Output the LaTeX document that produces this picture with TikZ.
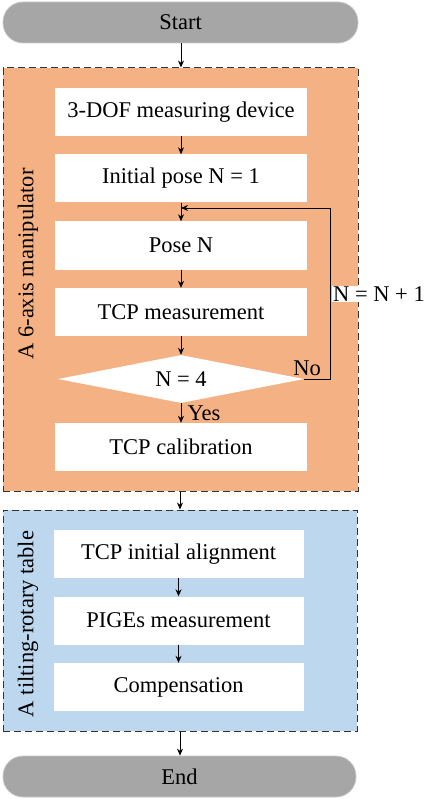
\documentclass[tikz,border=0pt]{standalone}
\usepackage{fontspec}
\setmainfont{Liberation Serif}
\newfontfamily\tnr{Liberation Serif}
\usetikzlibrary{arrows.meta,shapes.geometric}
\definecolor{grpor}{HTML}{F4B183}
\definecolor{grpbl}{HTML}{BDD7EE}
\definecolor{pillg}{HTML}{A6A6A6}
\definecolor{pilld}{HTML}{C8C8C8}
\definecolor{dashc}{HTML}{333333}
\begin{document}
\begin{tikzpicture}[x=1pt,y=-1pt,
  font=\tnr\fontsize{22.5}{27}\selectfont,
  pill/.style={draw=pilld, line width=0.8pt, fill=pillg, rounded corners=20pt, inner sep=0pt, minimum height=41pt},
  grp/.style={draw=dashc, line width=1pt, dash pattern=on 7pt off 4pt, inner sep=0pt},
  proc/.style={fill=white, inner sep=0pt, minimum width=252pt, minimum height=48pt},
  dec/.style={shape=diamond, fill=white, aspect=5.2, inner sep=0pt, minimum width=246pt, minimum height=48pt},
  arr/.style={-{Stealth[length=7pt,width=6pt]}, line width=0.9pt, black},
  lbl/.style={inner sep=0pt}
]
\useasboundingbox (0,0) rectangle (429,799);
% terminals
\node[pill, minimum width=355pt] (start) at (180.5,22.5) {Start};
\node[pill, minimum width=353pt] (end) at (179.5,776.5) {End};
% groups
\node[grp, fill=grpor, minimum width=355pt, minimum height=423pt] (ga) at (180.5,279.5) {};
\node[grp, fill=grpbl, minimum width=354pt, minimum height=221pt] (gb) at (180,620.5) {};
\node[lbl, rotate=90] (la) at (28,264) {A 6-axis manipulator};
\node[lbl, rotate=90] (lb) at (28,624) {A tilting-rotary table};
% steps
\node[proc] (dof) at (181,112) {3-DOF measuring device};
\node[proc] (init) at (181,178.5) {Initial pose N = 1};
\node[proc] (pose) at (181,245.5) {Pose N};
\node[proc] (meas) at (181,312) {TCP measurement};
\node[dec] (chk) at (181,379) {N = 4};
\node[proc] (cal) at (181,447) {TCP calibration};
\node[proc, minimum width=250pt] (align) at (178.5,554) {TCP initial alignment};
\node[proc, minimum width=250pt] (piges) at (178.5,620.5) {PIGEs measurement};
\node[proc, minimum width=250pt] (comp) at (178.5,687) {Compensation};
% connectors
\draw[arr] (start.south -| 181,0) -- (ga.north -| 181,0);
\draw[arr] (dof) -- (init);
\draw[arr] (init) -- (pose);
\draw[arr] (pose) -- (meas);
\draw[arr] (meas) -- (chk);
\draw[arr] (chk) -- (cal);
\draw[arr] (ga.south -| 180,0) -- (gb.north -| 180,0);
\draw[arr] (align) -- (piges);
\draw[arr] (piges) -- (comp);
\draw[arr] (gb.south -| 180,0) -- (end.north -| 180,0);
\coordinate (lc) at (330,208);
\coordinate (lin) at (181,208);
\draw[arr] (chk.east) -| (lc) -- (lin);
% labels
\node[fill=white, inner xsep=1.5pt, inner ysep=1pt] (inc) at (379,294) {N = N + 1};
\node[lbl] (no) at (307,368) {No};
\node[lbl] (yes) at (204,413) {Yes};
\end{tikzpicture}
\end{document}
